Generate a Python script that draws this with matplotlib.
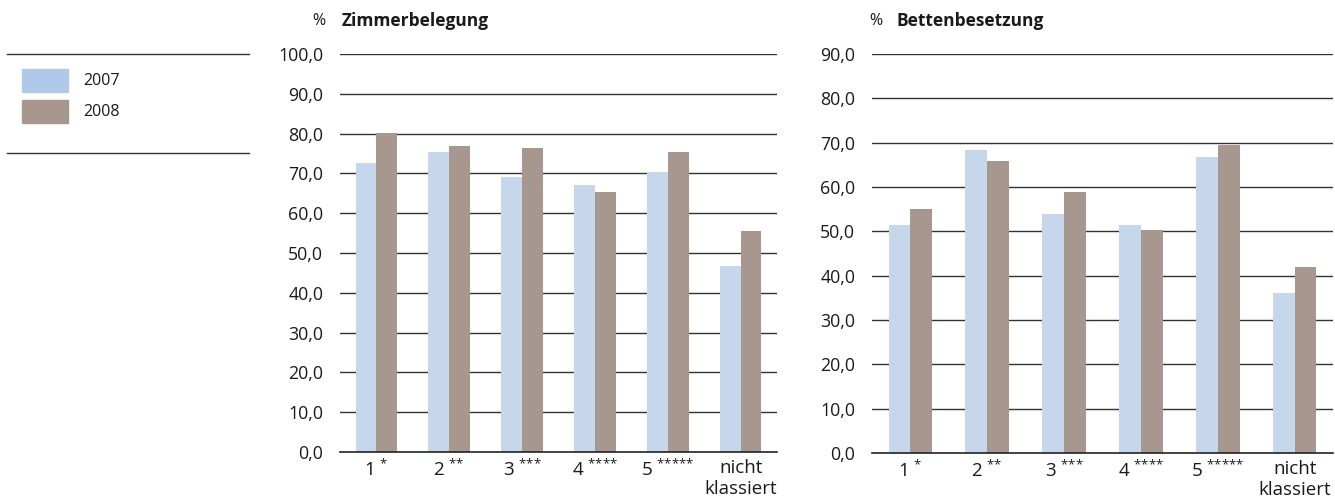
import matplotlib.pyplot as plt
import numpy as np
from matplotlib.patches import Rectangle
from matplotlib.lines import Line2D

plt.rcParams["font.family"] = ["Open Sans", "DejaVu Sans"]
plt.rcParams["mathtext.fontset"] = "custom"
plt.rcParams["mathtext.rm"] = "Open Sans"
plt.rcParams["mathtext.it"] = "Open Sans"
plt.rcParams["mathtext.bf"] = "Open Sans:bold"


def stars(n):
    # braces around each star keep mathtext from spacing them as operators
    return r"$^{\mathrm{" + "{*}" * n + "}}$"


categories = [
    "1 " + stars(1),
    "2 " + stars(2),
    "3 " + stars(3),
    "4 " + stars(4),
    "5 " + stars(5),
    "nicht\nklassiert",
]
years = ["2007", "2008"]

# Zimmerbelegung in %
rooms_2007 = [72.6, 75.4, 69.1, 67.1, 70.4, 46.7]
rooms_2008 = [80.2, 76.9, 76.4, 65.3, 75.4, 55.5]

# Bettenbesetzung in %
beds_2007 = [51.5, 68.4, 54.0, 51.5, 66.8, 36.1]
beds_2008 = [55.1, 65.9, 58.9, 50.3, 69.5, 42.0]

BLUE = "#C6D7EC"
BROWN = "#A7978F"
LEGEND_BLUE = "#B1C9E9"
GRID = "#333333"
TEXT = "#1a1a1a"

W, H = 1335.0, 503.0


def draw_panel(ax, s2007, s2008, title, ymax, pct_x, title_x):
    x = np.arange(len(categories))
    w = 0.285
    ax.bar(x - w / 2, s2007, width=w, color=BLUE, zorder=3)
    ax.bar(x + w / 2, s2008, width=w, color=BROWN, zorder=3)
    ax.set_xlim(-0.5, len(categories) - 0.5)
    ax.set_ylim(0, ymax)
    ticks = np.arange(0, ymax + 1, 10)
    ax.set_yticks(ticks)
    ax.set_yticklabels([f"{t:.1f}".replace(".", ",") for t in ticks])
    for t in ticks[1:]:
        ax.axhline(t, color=GRID, lw=1.0, zorder=1)
    ax.set_xticks(x)
    ax.set_xticklabels(categories, linespacing=1.2)
    for s in ["top", "right", "left"]:
        ax.spines[s].set_visible(False)
    ax.spines["bottom"].set_color("#222222")
    ax.spines["bottom"].set_linewidth(1.2)
    ax.spines["bottom"].set_zorder(4)
    ax.tick_params(axis="both", length=0, colors=TEXT)
    ax.tick_params(axis="y", pad=12, labelsize=12.8)
    ax.tick_params(axis="x", pad=5, labelsize=13.5)
    fig.text(pct_x / W, 1 - 21 / H, "%", fontsize=11.5, color=TEXT,
             ha="left", va="center")
    fig.text(title_x / W, 1 - 21 / H, title, fontsize=12.5,
             fontweight="bold", color=TEXT, ha="left", va="center")


fig = plt.figure(figsize=(13.35, 5.03), dpi=100)
ax1 = fig.add_axes([340 / W, 1 - 452 / H, 437 / W, 398 / H])
ax2 = fig.add_axes([872 / W, 1 - 453 / H, 461 / W, 399 / H])

draw_panel(ax1, rooms_2007, rooms_2008, "Zimmerbelegung", 100, 312, 342)
draw_panel(ax2, beds_2007, beds_2008, "Bettenbesetzung", 90, 869, 896)

# legend block on the left
for yy in [54, 153]:
    fig.add_artist(Line2D([7 / W, 249 / W], [1 - yy / H, 1 - yy / H],
                          color="#333333", lw=1.0))
for i, (yr, col) in enumerate(zip(years, [LEGEND_BLUE, BROWN])):
    top = 69 + i * 31
    fig.add_artist(Rectangle((22 / W, 1 - (top + 23) / H), 46 / W, 23 / H,
                             color=col, transform=fig.transFigure))
    fig.text(83 / W, 1 - (top + 12) / H, yr, fontsize=11.5, color=TEXT,
             ha="left", va="center")

fig.savefig("out.png", dpi=100)
